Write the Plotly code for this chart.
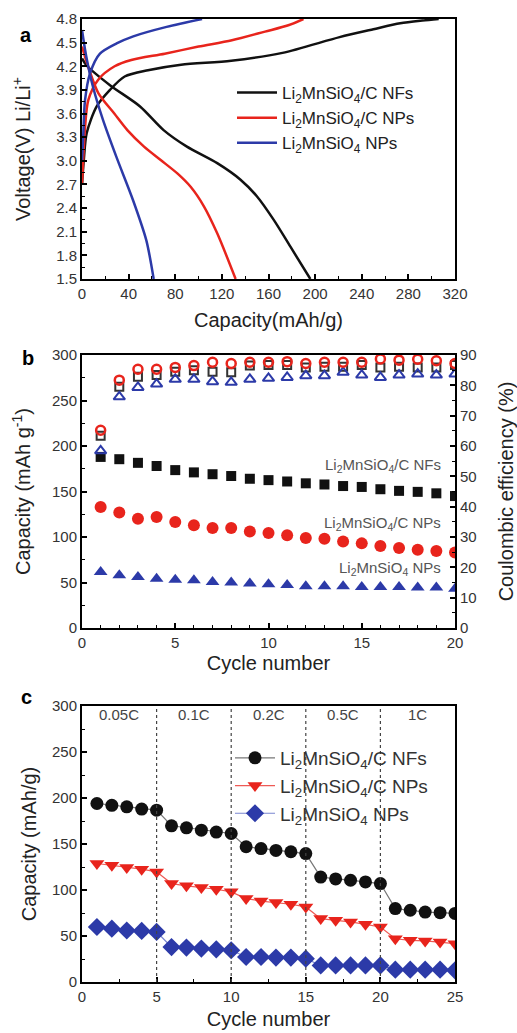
import plotly.graph_objects as go

# ---------------- (a) charge / discharge profiles ----------------
nf_chg_cap = [0, 1.5, 4, 12.6, 24, 36.6, 56.6, 85, 128, 172, 221, 250, 273, 292, 306]
nf_chg_v = [2.7, 3.0, 3.35, 3.69, 3.90, 4.07, 4.15, 4.22, 4.27, 4.37, 4.57, 4.67, 4.745, 4.78, 4.8]
nf_dis_cap = [0, 4, 24, 49.8, 70, 90, 116, 136, 150, 164.5, 178.8, 195.9]
nf_dis_v = [4.3, 4.21, 3.96, 3.69, 3.39, 3.18, 2.97, 2.76, 2.55, 2.25, 1.91, 1.5]

np_chg_cap = [0, 1, 2.5, 5.4, 13.9, 28, 42.3, 71, 100, 128.6, 157, 177, 190]
np_chg_v = [2.7, 3.0, 3.4, 3.77, 4.03, 4.2, 4.28, 4.36, 4.45, 4.53, 4.64, 4.72, 4.8]
np_dis_cap = [0, 5.4, 14, 27.7, 38.9, 53.2, 67.5, 81.8, 93.2, 104.7, 116, 131.8]
np_dis_v = [4.45, 4.19, 3.86, 3.60, 3.39, 3.18, 3.01, 2.84, 2.67, 2.42, 2.08, 1.5]

bare_chg_cap = [0, 1, 2.6, 6.9, 15.4, 29.7, 44, 72.6, 103]
bare_chg_v = [3.0, 3.3, 3.77, 4.11, 4.36, 4.49, 4.58, 4.70, 4.8]
bare_dis_cap = [0, 3.7, 9.4, 18, 29.5, 43.8, 55.2, 61.5]
bare_dis_v = [4.66, 4.32, 3.94, 3.52, 3.05, 2.50, 1.99, 1.5]

# ---------------- (b) cycling at constant rate ----------------
cycles_b = list(range(1, 21))
nf_cap_b = [188, 185.5, 181.5, 178, 173.5, 171, 169, 167, 164, 162.5,
            161, 159, 157.7, 156, 155, 152.5, 150.7, 149.6, 148, 145]
np_cap_b = [133, 127, 120, 122, 116.6, 113, 110, 110, 106, 104.5,
            102, 99, 98, 95, 93, 90, 88, 86, 84.7, 83]
bare_cap_b = [61.6, 58, 56, 54, 53, 52.4, 50.6, 50, 48.8, 48,
              47.3, 46, 46, 45.8, 45, 45, 45, 44.4, 44.4, 43]
nf_ce = [63.4, 79.5, 82.8, 83.4, 84.5, 85, 84.5, 84.3, 86.5, 86.7,
         86.7, 85.9, 86.1, 86.1, 86.7, 85.9, 86.1, 85.9, 85.9, 86.7]
np_ce = [65.2, 81.7, 85.3, 85.3, 85.9, 86.5, 87.6, 87.2, 87.6, 87.6,
         87.8, 87.2, 87.6, 87.6, 87.6, 88.7, 88.3, 88.6, 88.1, 87.2]
bare_ce = [58.4, 76.2, 79.3, 80.4, 82, 82, 81.2, 81, 82, 82.3,
           82.6, 83.2, 83.2, 84.3, 83.4, 82.6, 83.4, 83.7, 83.4, 83.7]

# ---------------- (c) rate capability ----------------
cycles_c = list(range(1, 26))
nf_cap_c = [194, 192, 190.4, 188, 186.8, 169.8, 167.6, 165, 163, 161.4,
            147, 145, 143, 141.6, 139.6, 114, 112, 110.6, 108.8, 107,
            79.8, 78, 76, 75.4, 74.5]
np_cap_c = [128.8, 127, 124.4, 122.6, 119.7, 107, 104.5, 102.6, 100.8, 98,
            90.7, 88, 86.3, 84.5, 81.6, 68.9, 67, 65.3, 62.7, 59.8,
            47, 45.3, 44.6, 43.5, 41.7]
bare_cap_c = [59.8, 58, 56, 55.5, 54.4, 38, 37.4, 36.3, 35.5, 34.5,
              27.2, 27.2, 26.5, 26.5, 25.4, 18, 18, 18, 18, 18,
              13.4, 13.4, 13.4, 13.4, 12.7]
rate_labels = ["0.05C", "0.1C", "0.2C", "0.5C", "1C"]
rate_centers = [2.5, 7.5, 12.5, 17.5, 22.5]
rate_bounds = [5, 10, 15, 20]

names = ["Li<sub>2</sub>MnSiO<sub>4</sub>/C NFs",
         "Li<sub>2</sub>MnSiO<sub>4</sub>/C NPs",
         "Li<sub>2</sub>MnSiO<sub>4</sub> NPs"]

BLACK = "#111111"
RED = "#e8241c"
BLUE = "#2c3aa8"
FONT = "Arial, Liberation Sans, sans-serif"
W, H = 517, 1033


def px_x(p):
    return p / W


def px_y(p):
    return 1 - p / H


fig = go.Figure()

# (a)
for chg_c, chg_v, dis_c, dis_v, col, nm in [
    (nf_chg_cap, nf_chg_v, nf_dis_cap, nf_dis_v, BLACK, names[0]),
    (np_chg_cap, np_chg_v, np_dis_cap, np_dis_v, RED, names[1]),
    (bare_chg_cap, bare_chg_v, bare_dis_cap, bare_dis_v, BLUE, names[2]),
]:
    fig.add_trace(go.Scatter(
        x=chg_c + [None] + dis_c, y=chg_v + [None] + dis_v,
        mode="lines", line=dict(color=col, width=2.5, shape="spline", smoothing=0.8),
        name=nm, legend="legend", xaxis="x", yaxis="y", connectgaps=False))

# (b) capacities (left axis)
fig.add_trace(go.Scatter(x=cycles_b, y=nf_cap_b, mode="markers", showlegend=False,
                         marker=dict(symbol="square", size=10, color=BLACK),
                         xaxis="x2", yaxis="y2"))
fig.add_trace(go.Scatter(x=cycles_b, y=np_cap_b, mode="markers", showlegend=False,
                         marker=dict(symbol="circle", size=12, color=RED),
                         xaxis="x2", yaxis="y2"))
fig.add_trace(go.Scatter(x=cycles_b, y=bare_cap_b, mode="markers", showlegend=False,
                         marker=dict(symbol="triangle-up", size=12, color=BLUE),
                         xaxis="x2", yaxis="y2"))
# (b) coulombic efficiency (right axis)
fig.add_trace(go.Scatter(x=cycles_b, y=nf_ce, mode="markers", showlegend=False,
                         marker=dict(symbol="square-open", size=8, color="#333333",
                                     line=dict(width=2)),
                         xaxis="x2", yaxis="y3"))
fig.add_trace(go.Scatter(x=cycles_b, y=bare_ce, mode="markers", showlegend=False,
                         marker=dict(symbol="triangle-up-open", size=10, color=BLUE,
                                     line=dict(width=2)),
                         xaxis="x2", yaxis="y3"))
fig.add_trace(go.Scatter(x=cycles_b, y=np_ce, mode="markers", showlegend=False,
                         marker=dict(symbol="circle-open", size=9, color=RED,
                                     line=dict(width=2.5)),
                         xaxis="x2", yaxis="y3"))

# (c)
for ys, col, lcol, sym, sz, nm in [
    (nf_cap_c, BLACK, "#777777", "circle", 13, names[0]),
    (np_cap_c, RED, "#ee5a55", "triangle-down", 13, names[1]),
    (bare_cap_c, BLUE, "#7a86d0", "diamond", 14, names[2]),
]:
    fig.add_trace(go.Scatter(x=cycles_c, y=ys, mode="lines+markers", name=nm,
                             line=dict(color=lcol, width=1.2),
                             marker=dict(symbol=sym, size=sz, color=col),
                             legend="legend2", xaxis="x3", yaxis="y4"))

axis_common = dict(showline=True, linewidth=2, linecolor="black", mirror=True,
                   ticks="inside", ticklen=5, tickwidth=1.5, tickcolor="black",
                   showgrid=False, zeroline=False, automargin=False,
                   tickfont=dict(size=15, color="#333333", family=FONT),
                   title_font=dict(size=20, color="#222222", family=FONT))

minor_in = dict(ticks="inside", ticklen=3, tickwidth=1.2, tickcolor="black")

layout = dict(
    width=W, height=H, margin=dict(l=0, r=0, t=0, b=0),
    paper_bgcolor="white", plot_bgcolor="white",
    font=dict(family=FONT, color="#222222"),
    xaxis=dict(axis_common, domain=[px_x(82), px_x(455)], anchor="y",
               range=[0, 320], tick0=0, dtick=40, minor=dict(minor_in, dtick=20),
               title=dict(text="Capacity(mAh/g)", standoff=12)),
    yaxis=dict(axis_common, domain=[px_y(279), px_y(19)], anchor="x",
               range=[1.5, 4.8], tick0=1.5, dtick=0.3, tickformat=".1f",
               minor=dict(minor_in, dtick=0.15),
               title=dict(text="Voltage(V) Li/Li<sup>+</sup>", standoff=20)),
    xaxis2=dict(axis_common, domain=[px_x(82), px_x(455)], anchor="y2",
                range=[0, 20], tick0=0, dtick=5, minor=dict(minor_in, dtick=1),
                title=dict(text="Cycle number", standoff=6)),
    yaxis2=dict(axis_common, domain=[px_y(628), px_y(355)], anchor="x2",
                range=[0, 300], dtick=50, minor=dict(minor_in, dtick=25),
                title=dict(text="Capacity (mAh g<sup>-1</sup>)", standoff=16)),
    yaxis3=dict(axis_common, anchor="x2", overlaying="y2", side="right",
                range=[0, 90], dtick=10, minor=dict(minor_in, dtick=5), mirror=False,
                title=dict(text="Coulombic efficiency (%)", standoff=23)),
    xaxis3=dict(axis_common, domain=[px_x(82), px_x(455)], anchor="y4",
                range=[0, 25], dtick=5, minor=dict(minor_in, dtick=2.5),
                title=dict(text="Cycle number", standoff=8)),
    yaxis4=dict(axis_common, domain=[px_y(982), px_y(706)], anchor="x3",
                range=[0, 300], dtick=50, minor=dict(minor_in, dtick=25),
                title=dict(text="Capacity (mAh/g)", standoff=10)),
    legend=dict(x=px_x(232), y=px_y(75), xanchor="left", yanchor="top",
                bgcolor="rgba(0,0,0,0)", font=dict(size=17, color="#222222"),
                tracegroupgap=0, itemwidth=40),
    legend2=dict(x=px_x(230), y=px_y(739), xanchor="left", yanchor="top",
                 bgcolor="rgba(0,0,0,0)", font=dict(size=19, color="#333333"),
                 tracegroupgap=0, itemwidth=40),
)
fig.update_layout(**layout)

# panel letters
for letter, xp, yp in [("a", 18, 22), ("b", 20, 358), ("c", 19, 710)]:
    fig.add_annotation(text=f"<b>{letter}</b>", x=px_x(xp), y=px_y(yp),
                       xref="paper", yref="paper", showarrow=False,
                       font=dict(size=20, color="black", family=FONT))

# series labels in (b)
for txt, yv in [("Li<sub>2</sub>MnSiO<sub>4</sub>/C NFs", px_y(465)),
                ("Li<sub>2</sub>MnSiO<sub>4</sub>/C NPs", px_y(523)),
                ("Li<sub>2</sub>MnSiO<sub>4</sub> NPs", px_y(568))]:
    fig.add_annotation(text=txt, x=px_x(443), y=yv, xref="paper", yref="paper",
                       xanchor="right", showarrow=False,
                       font=dict(size=15, color="#555555", family=FONT))

# rate regions in (c)
for xb in rate_bounds:
    fig.add_shape(type="line", x0=xb, x1=xb, y0=0, y1=1, xref="x3", yref="y4 domain",
                  line=dict(color="#444444", width=1.2, dash="dot"))
for lab, xc in zip(rate_labels, rate_centers):
    fig.add_annotation(text=lab, x=xc, y=px_y(725), xref="x3", yref="paper",
                       showarrow=False, font=dict(size=15, color="#444444", family=FONT))

fig.write_html("out.html")
